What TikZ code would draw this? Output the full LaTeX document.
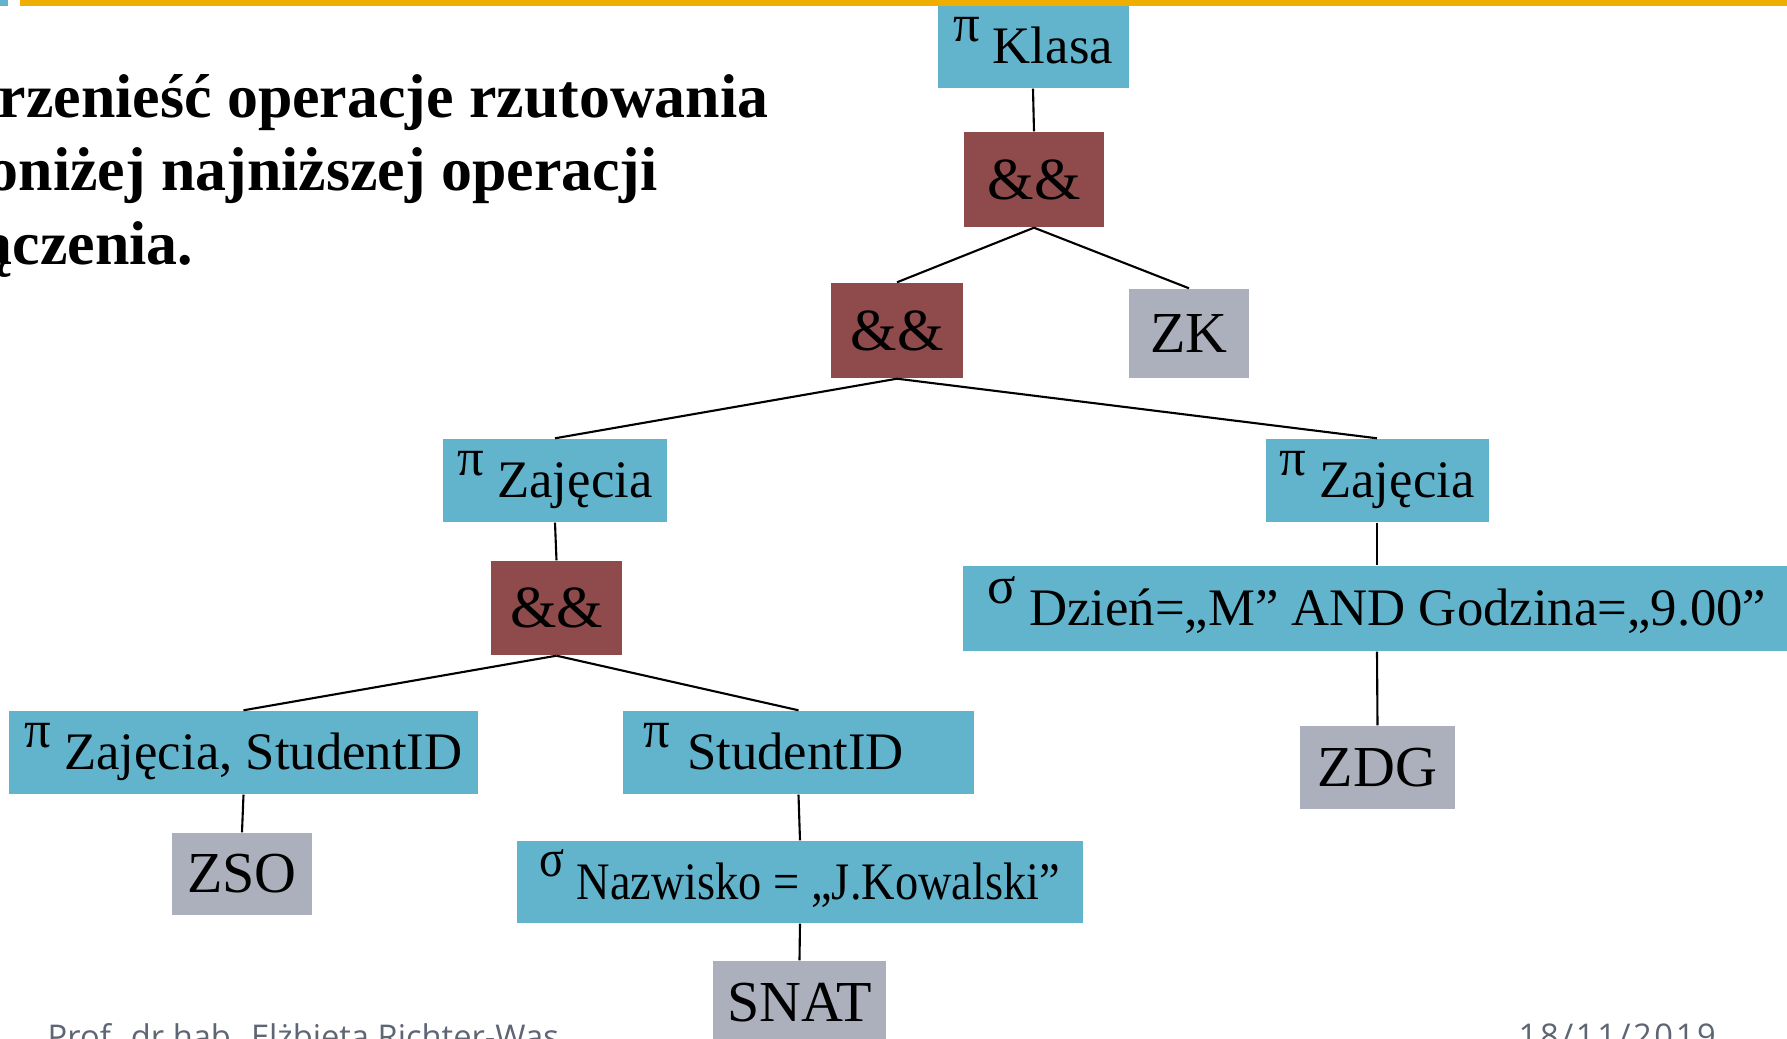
\documentclass[tikz,border=0pt]{standalone}
\usepackage{fontspec}
\setmainfont{Liberation Serif}
\newfontfamily\narrowfont[FakeStretch=0.88]{Liberation Serif}
\newfontfamily\footfont{Open Sans}
\usepackage{tikz}
\usetikzlibrary{positioning}
\definecolor{projblue}{HTML}{62B4CD}
\definecolor{joinred}{HTML}{8F4B4B}
\definecolor{relgray}{HTML}{ACB0BC}
\definecolor{topyellow}{HTML}{F0AE00}
\definecolor{footgray}{HTML}{5E6573}
\newcommand{\opsym}[1]{\raisebox{0.43em}{#1}}
\tikzset{
  opnode/.style={fill=projblue, inner sep=0pt, minimum height=8.3mm, font=\fontsize{15}{18}\selectfont, text height=4.5mm, text depth=1mm},
  joinnode/.style={fill=joinred, inner sep=0pt, minimum height=9.5mm, font=\fontsize{17}{20}\selectfont},
  relnode/.style={fill=relgray, inner sep=0pt, minimum height=8.3mm, font=\fontsize{16.5}{20}\selectfont}
}
\begin{document}
\begin{tikzpicture}[
    x=0.1mm, y=-0.1mm, % one unit per pixel of the slide
    headtext/.style={inner sep=0pt, anchor=base west, font=\fontsize{17.6}{21}\selectfont\bfseries},
    foottext/.style={inner sep=0pt, anchor=north west, text=footgray, font=\footfont\fontsize{9.3}{11}\selectfont},
    edge/.style={line width=0.6pt}
]
    \useasboundingbox (0,0) rectangle (1787,1039);
    \clip (0,0) rectangle (1787,1039);

    % Heading text
    \node (head1) [headtext] at (-2,118) {rzenieść operacje rzutowania};
    \node (head2) [headtext] at (-13,191) {oniżej najniższej operacji};
    \node (head3) [headtext] at (-19,265) {ączenia.};

    % Define nodes
    \node (klasa) [opnode, minimum width=19.1mm] at (1033,46.5) {\opsym{π} Klasa};
    \node (and1) [joinnode, minimum width=14mm] at (1034,179.5) {\&\&};
    \node (and2) [joinnode, minimum width=13.2mm] at (897,330.5) {\&\&};
    \node (zk) [relnode, minimum width=12mm, minimum height=8.9mm] at (1189,333.5) {ZK};
    \node (zajL) [opnode, minimum width=22.4mm] at (555,480.5) {\opsym{π} Zajęcia};
    \node (zajR) [opnode, minimum width=22.3mm] at (1377,480.5) {\opsym{π} Zajęcia};
    \node (and3) [joinnode, minimum width=13.1mm, minimum height=9.4mm] at (556.5,608) {\&\&};
    \node (dzien) [opnode, minimum width=82.8mm, minimum height=8.5mm] at (1377,608.5) {\opsym{σ} Dzień=„M” AND Godzina=„9.00”};
    \node (zajstud) [opnode, minimum width=46.9mm] at (243.5,752.5) {\opsym{π} Zajęcia, StudentID};
    \node (studid) [opnode, minimum width=35.1mm, text width=31.1mm, align=left] at (798.5,752.5) {\opsym{π} StudentID};
    \node (zdg) [relnode, minimum width=15.5mm] at (1377.5,767.5) {ZDG};
    \node (zso) [relnode, minimum width=14mm, minimum height=8.2mm] at (242,874) {ZSO};
    \node (nazw) [opnode, minimum width=56.6mm, minimum height=8.2mm, font=\narrowfont\fontsize{15}{18}\selectfont] at (800,882) {\opsym{σ} Nazwisko = „J.Kowalski”};
    \node (snat) [relnode, minimum width=17.3mm] at (799.5,1002.5) {SNAT};

    % Draw edges
    \draw[edge] (klasa.south) -- (and1.north);
    \draw[edge] (and1.south) -- (and2.north);
    \draw[edge] (and1.south) -- (zk.north);
    \draw[edge] (and2.south) -- (zajL.north);
    \draw[edge] (and2.south) -- (zajR.north);
    \draw[edge] (zajL.south) -- (and3.north);
    \draw[edge] (and3.south) -- (zajstud.north);
    \draw[edge] (and3.south) -- (studid.north);
    \draw[edge] (zajstud.south) -- (zso.north);
    \draw[edge] (studid.south) -- (nazw.north);
    \draw[edge] (nazw.south) -- (snat.north);
    \draw[edge] (zajR.south) -- (dzien.north);
    \draw[edge] (dzien.south) -- (zdg.north);

    % Footer
    \node (author) [foottext] at (47,1023) {Prof. dr hab. Elżbieta Richter-Wąs};
    \node (date) [foottext] at (1518,1023) {\addfontfeatures{LetterSpace=8}18/11/2019};

    % Top rule of the slide
    \fill[projblue] (0,0) rectangle (8,6);
    \fill[topyellow] (20,0) rectangle (1787,6);
\end{tikzpicture}
\end{document}
